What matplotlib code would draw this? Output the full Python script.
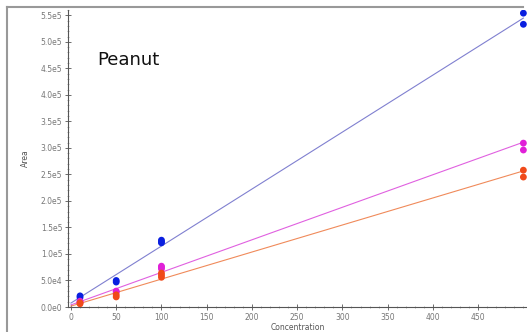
#!/usr/bin/env python3

import numpy as np
import matplotlib
matplotlib.use('Agg')
import matplotlib.pyplot as plt
from matplotlib.lines import Line2D
from matplotlib.ticker import FixedLocator, MultipleLocator

# concentrations with replicate areas for each series
conc = [10, 10, 50, 50, 100, 100, 100, 500, 500]
blue_area = [2.1e4, 1.8e4, 5.0e4, 4.7e4, 1.26e5, 1.23e5, 1.21e5, 5.54e5, 5.33e5]
magenta_area = [1.1e4, 0.9e4, 3.0e4, 2.8e4, 7.7e4, 7.5e4, 7.2e4, 3.09e5, 2.96e5]
orange_area = [0.8e4, 0.6e4, 2.3e4, 1.9e4, 6.4e4, 6.0e4, 5.6e4, 2.58e5, 2.45e5]

x_ticks = [0, 50, 100, 150, 200, 250, 300, 350, 400, 450]
y_ticks = [0, 5e4, 1e5, 1.5e5, 2e5, 2.5e5, 3e5, 3.5e5, 4e5, 4.5e5, 5e5, 5.5e5]
y_tick_labels = ['0.0e0', '5.0e4', '1.0e5', '1.5e5', '2.0e5', '2.5e5',
                 '3.0e5', '3.5e5', '4.0e5', '4.5e5', '5.0e5', '5.5e5']

series = [
    (blue_area, '#0a1fe0', '#8080d0'),
    (magenta_area, '#e020d8', '#e060e0'),
    (orange_area, '#f04a1a', '#f08a5a'),
]

fig = plt.figure(figsize=(5.27, 3.32), dpi=100)
ax = fig.add_axes([0.129, 0.0753, 0.871, 0.8946])

xfit = np.array([0, 500])
for area, pt_color, ln_color in series:
    # 1/x weighted calibration fit
    k, b = np.polyfit(conc, area, 1, w=1 / np.sqrt(conc))
    ax.plot(xfit, k * xfit + b, color=ln_color, linewidth=0.8, zorder=2)
    ax.scatter(conc, area, s=24, color=pt_color, edgecolors='none', zorder=3)

ax.set_xlim(-3.3, 504)
ax.set_ylim(0, 5.6e5)
ax.xaxis.set_major_locator(FixedLocator(x_ticks))
ax.xaxis.set_minor_locator(MultipleLocator(10))
ax.set_yticks(y_ticks)
ax.set_yticklabels(y_tick_labels)
ax.yaxis.set_minor_locator(MultipleLocator(1e4))

for side in ['top', 'right']:
    ax.spines[side].set_visible(False)
for side in ['left', 'bottom']:
    ax.spines[side].set_color('#555555')
    ax.spines[side].set_linewidth(0.8)

ax.tick_params(which='major', direction='inout', length=4, width=0.6,
               colors='#555555', labelsize=5.5, labelcolor='#777777', pad=2)
ax.tick_params(which='minor', direction='inout', length=2, width=0.4, colors='#777777')

ax.set_xlabel('Concentration', fontsize=5.5, color='#555555', labelpad=1)
ax.set_ylabel('Area', fontsize=5.5, color='#555555', labelpad=8)

ax.text(0.064, 0.815, 'Peanut', transform=ax.transAxes, fontsize=13, color='#111111')

# gray frame edges from the original screenshot
fig.add_artist(Line2D([7 / 527, 7 / 527], [0, 1 - 7 / 332], transform=fig.transFigure,
                      color='#999999', linewidth=1.5))
fig.add_artist(Line2D([7 / 527, 523 / 527], [1 - 7 / 332, 1 - 7 / 332], transform=fig.transFigure,
                      color='#999999', linewidth=1.5))

plt.savefig('out.png', dpi=100)
